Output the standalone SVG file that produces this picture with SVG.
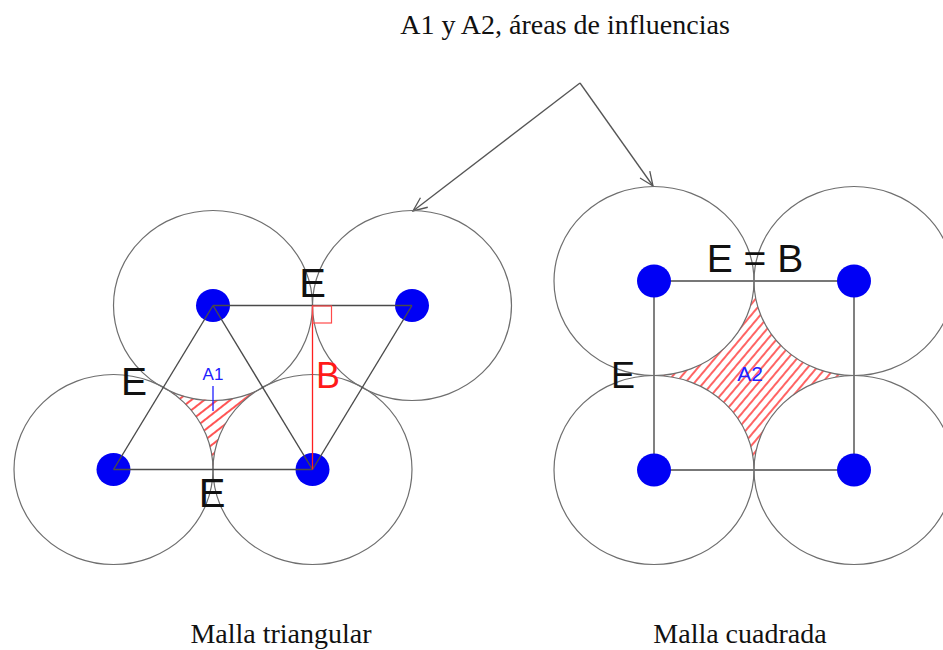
<svg xmlns="http://www.w3.org/2000/svg" width="943" height="650" viewBox="0 0 943 650">
<style>
  .circ{fill:none;stroke:#6e6e6e;stroke-width:1.2}
  .dot{fill:#0000f5}
  .edge{stroke:#4a4a4a;stroke-width:1.4;fill:none}
  .serif{font-family:"Liberation Serif","Times New Roman",serif;font-size:28px;fill:#111;text-anchor:middle}
  .lbl{font-family:"Liberation Sans",Arial,sans-serif;fill:#111;text-anchor:middle}
  .blue{font-family:"Liberation Sans",Arial,sans-serif;fill:#2020ff;text-anchor:middle}
  .arrow{stroke:#555;stroke-width:1.3;fill:none}
</style>
<defs>
  <pattern id="hatch1" patternUnits="userSpaceOnUse" width="8" height="8" patternTransform="rotate(52)">
    <rect width="8" height="8" fill="#fff"/>
    <line x1="1" y1="0" x2="1" y2="8" stroke="#ff2a2a" stroke-width="1.6"/>
  </pattern>
  <pattern id="hatch2" patternUnits="userSpaceOnUse" width="7" height="7" patternTransform="rotate(40)">
    <rect width="7" height="7" fill="#fff"/>
    <line x1="1" y1="0" x2="1" y2="7" stroke="#ff3030" stroke-width="1.5"/>
  </pattern>
  <marker id="openArrow" markerUnits="userSpaceOnUse" markerWidth="18" markerHeight="14" refX="15" refY="7" orient="auto">
    <path d="M1,1 L15,7 L1,13" fill="none" stroke="#555" stroke-width="1.3"/>
  </marker>
</defs>
<rect width="943" height="650" fill="#fff"/>

<text class="serif" x="565" y="34">A1 y A2, áreas de influencias</text>
<text class="serif" x="281" y="643">Malla triangular</text>
<text class="serif" x="740" y="643">Malla cuadrada</text>

<!-- connectors (arrows) -->
<g id="connectors">
  <line class="arrow" x1="580" y1="83" x2="413" y2="211" marker-end="url(#openArrow)"/>
  <line class="arrow" x1="580" y1="83" x2="653" y2="186" marker-end="url(#openArrow)"/>
</g>

<!-- triangular mesh -->
<g id="triangular-mesh">
  <path id="A1-area" d="M163.25,387.5 A99.5,95 0 0 0 262.75,387.5 A99.5,95 0 0 0 213,469.5 A99.5,95 0 0 0 163.25,387.5 Z" fill="url(#hatch1)" stroke="none"/>
  <g id="tri-TL"><ellipse class="circ" cx="213" cy="305.5" rx="99.5" ry="95"/><ellipse class="dot" cx="213" cy="305.5" rx="17" ry="16.5"/></g>
  <g id="tri-TR"><ellipse class="circ" cx="412" cy="305.5" rx="99.5" ry="95"/><ellipse class="dot" cx="412" cy="305.5" rx="17" ry="16.5"/></g>
  <g id="tri-BL"><ellipse class="circ" cx="113.5" cy="469.5" rx="99.5" ry="95"/><ellipse class="dot" cx="113.5" cy="469.5" rx="17" ry="16.5"/></g>
  <g id="tri-BR"><ellipse class="circ" cx="312.5" cy="469.5" rx="99.5" ry="95"/><ellipse class="dot" cx="312.5" cy="469.5" rx="17" ry="16.5"/></g>
  <g id="tri-edges">
    <line class="edge" x1="213" y1="305.5" x2="412" y2="305.5"/>
    <line class="edge" x1="113.5" y1="469.5" x2="312.5" y2="469.5"/>
    <line class="edge" x1="213" y1="305.5" x2="113.5" y2="469.5"/>
    <line class="edge" x1="213" y1="305.5" x2="312.5" y2="469.5"/>
    <line class="edge" x1="412" y1="305.5" x2="312.5" y2="469.5"/>
  </g>
  <g id="B-height">
    <line x1="312.5" y1="305.5" x2="312.5" y2="469.5" stroke="#ff2020" stroke-width="1.3"/>
    <rect x="312.5" y="306" width="19" height="17" fill="none" stroke="#ff4a4a" stroke-width="1.2"/>
  </g>
  <text class="lbl" x="312.5" y="297" font-size="40">E</text>
  <text class="lbl" x="134" y="395" font-size="39">E</text>
  <text class="lbl" x="212" y="507" font-size="40">E</text>
  <text class="lbl" x="328" y="388" font-size="36" style="fill:#ff1a1a">B</text>
  <text class="blue" x="213" y="380" font-size="17">A1</text>
  <line x1="213" y1="386" x2="213" y2="411" stroke="#2020ff" stroke-width="1.3"/>
</g>

<!-- square mesh -->
<g id="square-mesh">
  <path id="A2-area" d="M754,281 A100,94.5 0 0 1 654,375.5 A100,94.5 0 0 1 754,470 A100,94.5 0 0 1 854,375.5 A100,94.5 0 0 1 754,281 Z" fill="url(#hatch2)" stroke="none"/>
  <g id="sq-edges">
    <line class="edge" x1="654" y1="281" x2="854" y2="281"/>
    <line class="edge" x1="854" y1="281" x2="854" y2="470"/>
    <line class="edge" x1="854" y1="470" x2="654" y2="470"/>
    <line class="edge" x1="654" y1="470" x2="654" y2="281"/>
  </g>
  <g id="sq-TL"><ellipse class="circ" cx="654" cy="281" rx="100" ry="94.5"/><ellipse class="dot" cx="654" cy="281" rx="17" ry="16.5"/></g>
  <g id="sq-TR"><ellipse class="circ" cx="854" cy="281" rx="100" ry="94.5"/><ellipse class="dot" cx="854" cy="281" rx="17" ry="16.5"/></g>
  <g id="sq-BL"><ellipse class="circ" cx="654" cy="470" rx="100" ry="94.5"/><ellipse class="dot" cx="654" cy="470" rx="17" ry="16.5"/></g>
  <g id="sq-BR"><ellipse class="circ" cx="854" cy="470" rx="100" ry="94.5"/><ellipse class="dot" cx="854" cy="470" rx="17" ry="16.5"/></g>
  <text class="lbl" x="755" y="272" font-size="39">E = B</text>
  <text class="lbl" x="623" y="388" font-size="36">E</text>
  <text class="blue" x="750" y="381" font-size="21">A2</text>
</g>
</svg>
